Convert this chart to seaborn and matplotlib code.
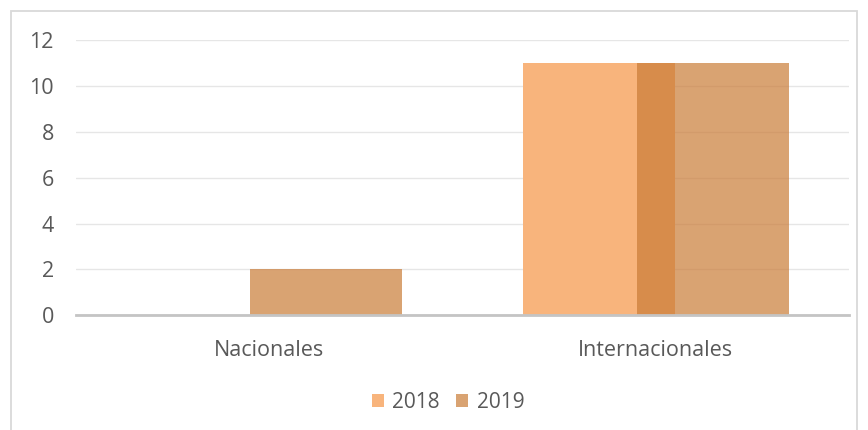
import matplotlib
matplotlib.use("Agg")
import matplotlib.pyplot as plt
import seaborn as sns
import pandas as pd
from matplotlib.patches import Rectangle, Patch

categories = ["Nacionales", "Internacionales"]
years = ["2018", "2019"]
values_2018 = [0, 11]
values_2019 = [2, 11]
y_ticks = [0, 2, 4, 6, 8, 10, 12]

colors = {"2018": "#F8B47C", "2019": "#CA7C37"}
alphas = {"2018": 1.0, "2019": 0.7}

df = pd.DataFrame({
    "cat": categories * 2,
    "year": [years[0]] * 2 + [years[1]] * 2,
    "val": values_2018 + values_2019,
})

sns.set_theme(style="white")
plt.rcParams["font.family"] = ["Open Sans", "DejaVu Sans"]

fig = plt.figure(figsize=(8.68, 4.30), dpi=100)
ax = fig.add_axes([0.0876, 0.267, 0.978 - 0.0876, 0.906 - 0.267])

sns.barplot(data=df, x="cat", y="val", hue="year", order=categories,
            hue_order=years, palette=colors, dodge=True, ax=ax,
            legend=False, saturation=1)

# overlap bars: width 0.393, centers at +/-0.1475 around the category
bar_w = 0.393
offset = 0.1475
for i, cont in enumerate(ax.containers):
    yr = years[i]
    for j, patch in enumerate(cont.patches):
        patch.set_width(bar_w)
        patch.set_x(j + (i - 0.5) * 2 * offset - bar_w / 2)
        patch.set_alpha(alphas[yr])
        patch.set_edgecolor("none")
        patch.set_zorder(3 + i)

ax.set_xlim(-0.5, 1.5)
ax.set_ylim(0, 12)
ax.set_yticks(y_ticks)
ax.yaxis.grid(True, color="#E6E6E6", linewidth=1.0, zorder=0)
ax.set_axisbelow(True)
for s in ["top", "right", "left"]:
    ax.spines[s].set_visible(False)
ax.spines["bottom"].set_color("#C4C4C4")
ax.spines["bottom"].set_linewidth(2.0)
ax.spines["bottom"].set_zorder(6)
ax.tick_params(axis="both", length=0, labelsize=15.5, colors="#595959")
ax.tick_params(axis="y", pad=16)
ax.tick_params(axis="x", pad=18)
ax.set_xlabel("")
ax.set_ylabel("")

handles = [Patch(facecolor=colors[y], alpha=alphas[y], edgecolor="none") for y in years]
fig.legend(handles, years, loc="center", bbox_to_anchor=(0.516, 0.064), ncol=2,
           frameon=False, fontsize=15, handlelength=0.6, handleheight=0.6,
           handletextpad=0.4, columnspacing=0.75, labelcolor="#595959")

fig.patches.append(Rectangle((11 / 868, -0.05), (857 - 11) / 868, 1 - 11 / 430 + 0.05,
                             transform=fig.transFigure, fill=False,
                             edgecolor="#D9D9D9", linewidth=1.3))

fig.savefig("out.png", dpi=100, facecolor="white")
